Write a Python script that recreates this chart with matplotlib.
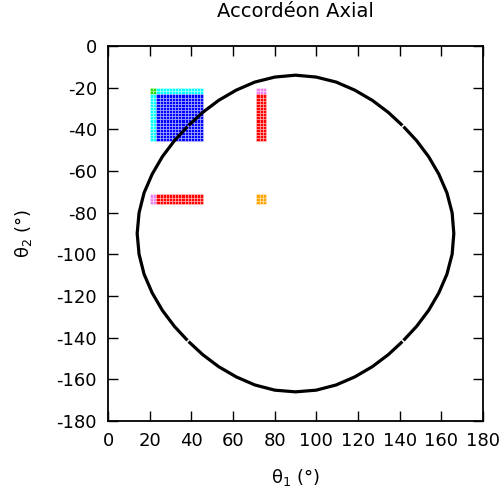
import matplotlib.pyplot as plt
from matplotlib.patches import Rectangle
from matplotlib.collections import PatchCollection

plt.rcParams['font.family'] = ['DejaVu Sans']
plt.rcParams['axes.unicode_minus'] = False

# sampled configurations (deg)
theta1_grid = [21.0, 22.5, 24.0, 25.5, 27.0, 28.5, 30.0, 31.5, 33.0, 34.5, 36.0, 37.5, 39.0, 40.5, 42.0, 43.5, 45.0]
theta2_grid = [-21.0, -22.5, -24.0, -25.5, -27.0, -28.5, -30.0, -31.5, -33.0, -34.5, -36.0, -37.5, -39.0, -40.5, -42.0, -43.5, -45.0]
theta1_bar = [72.0, 73.5, 75.0]
theta2_bar = [-72.0, -73.5, -75.0]
cell = 1.5

# closed curve (one lap)
curve_t1 = [166.0, 165.2, 162.7, 158.8, 153.9, 148.1, 141.6, 134.6, 126.9, 118.5, 109.5, 99.9,
            90.0, 80.1, 70.5, 61.5, 53.1, 45.4, 38.4, 31.9, 26.1, 21.2, 17.3, 14.9,
            14.0, 14.9, 17.3, 21.2, 26.1, 31.9, 38.4, 45.4, 53.1, 61.5, 70.5, 80.1,
            90.0, 99.9, 109.5, 118.5, 126.9, 134.6, 141.6, 148.1, 153.9, 158.8, 162.7, 165.2]
curve_t2 = [-90.0, -80.1, -70.5, -61.5, -53.1, -45.4, -38.4, -31.9, -26.1, -21.2, -17.3, -14.9,
            -14.0, -14.9, -17.3, -21.2, -26.1, -31.9, -38.4, -45.4, -53.1, -61.5, -70.5, -80.1,
            -90.0, -99.9, -109.5, -118.5, -126.9, -134.6, -141.6, -148.1, -153.9, -158.8, -162.7, -165.2,
            -166.0, -165.2, -162.7, -158.8, -153.9, -148.1, -141.6, -134.6, -126.9, -118.5, -109.5, -99.9]
# small breaks in the curve (indices into the lap)
breaks = [6, 18, 30, 42]

blue = '#0000ff'
cyan = '#00ffff'
green = '#22dd00'
red = '#ff0000'
violet = '#ee82ee'
orange = '#ffa500'

cells = []
colors = []
# upper-left block
for i, t1 in enumerate(theta1_grid):
    for j, t2 in enumerate(theta2_grid):
        cells.append((t1, t2))
        if i < 2 and j < 2:
            colors.append(green)
        elif i < 2 or j < 2:
            colors.append(cyan)
        else:
            colors.append(blue)
# horizontal bar
for i, t1 in enumerate(theta1_grid):
    for t2 in theta2_bar:
        cells.append((t1, t2))
        colors.append(violet if i < 2 else red)
# vertical bar
for t1 in theta1_bar:
    for j, t2 in enumerate(theta2_grid):
        cells.append((t1, t2))
        colors.append(violet if j < 2 else red)
# corner block
for t1 in theta1_bar:
    for t2 in theta2_bar:
        cells.append((t1, t2))
        colors.append(orange)

fig = plt.figure(figsize=(5.04, 4.98), dpi=100)
ax = fig.add_axes([0.2143, 0.1546, 0.744, 0.753])

rects = [Rectangle((t1 - cell / 2, t2 - cell / 2), cell, cell) for t1, t2 in cells]
pc = PatchCollection(rects, facecolors=colors, edgecolors=(1, 1, 1, 0.45), linewidths=0.5, zorder=2)
ax.add_collection(pc)

# draw the curve in pieces, leaving a short gap at each break
n = len(curve_t1)
pts = list(zip(curve_t1, curve_t2))


def lerp(a, b, f):
    return (a[0] + (b[0] - a[0]) * f, a[1] + (b[1] - a[1]) * f)


for k in range(len(breaks)):
    b0 = breaks[k]
    b1 = breaks[(k + 1) % len(breaks)]
    if b1 <= b0:
        b1 += n
    seg = [lerp(pts[b0 % n], pts[(b0 + 1) % n], 0.12)]
    for m in range(b0 + 1, b1):
        seg.append(pts[m % n])
    seg.append(lerp(pts[(b1 - 1) % n], pts[b1 % n], 0.88))
    xs, ys = zip(*seg)
    ax.plot(xs, ys, color='black', linewidth=2.3, solid_joinstyle='round', zorder=3)

ax.set_xlim(0, 180)
ax.set_ylim(-180, 0)
ax.set_xticks(range(0, 181, 20))
ax.set_yticks(range(-180, 1, 20))
ax.tick_params(direction='in', length=7, width=1, top=True, right=True, labelsize=13, pad=8)
for s in ax.spines.values():
    s.set_linewidth(1.3)
ax.set_title('Accordéon Axial', fontsize=14, pad=21)
ax.set_xlabel(r'$\mathregular{\theta_1}$ (°)', fontsize=13, labelpad=12)
ax.set_ylabel(r'$\mathregular{\theta_2}$ (°)', fontsize=13, labelpad=16)

fig.savefig('out.png', dpi=100)
